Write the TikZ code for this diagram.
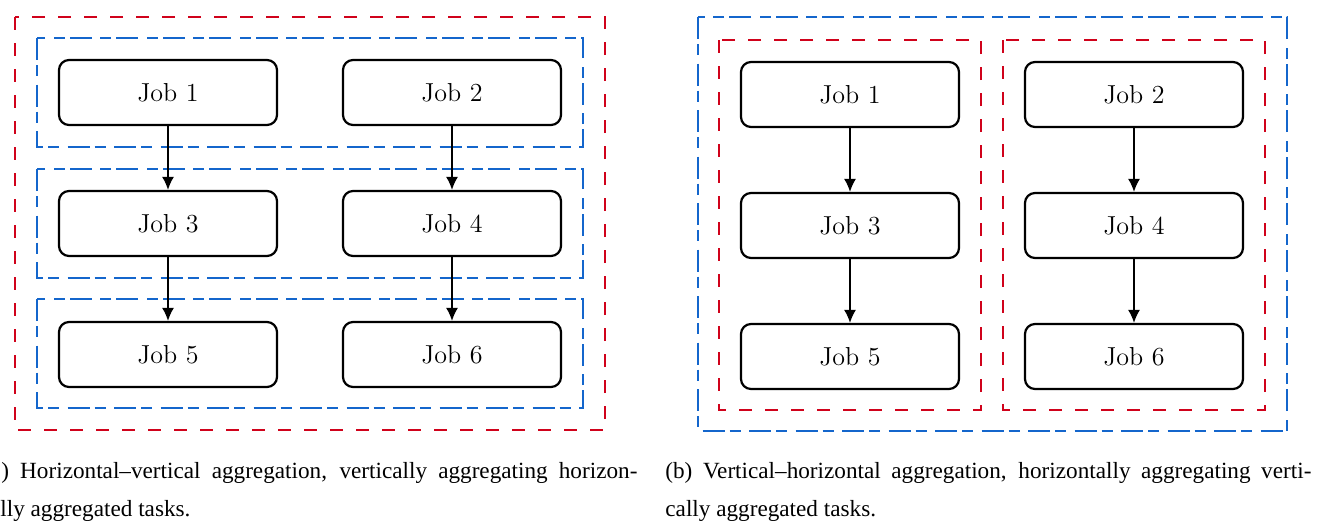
\documentclass[tikz,border=0pt]{standalone}
\usepackage{fontspec}
\usetikzlibrary{arrows.meta}
\newfontfamily\captionfont{Liberation Serif}
\definecolor{aggred}{RGB}{208,2,27}
\definecolor{aggblue}{RGB}{20,102,204}

\tikzset{
	job/.style={draw, line width=1.1pt, rounded corners=5pt, minimum width=109pt, minimum height=32.5pt, font=\fontsize{13}{15}\selectfont},
	vgroup/.style={aggred, line width=1pt, dash pattern=on 6.5pt off 6.5pt},
	hgroup/.style={aggblue, line width=1pt, dash pattern=on 11pt off 2.5pt on 5.5pt off 4.25pt},
	flow/.style={-{Latex[length=6.5pt,width=6pt]}, line width=0.8pt},
	captionline/.style={anchor=base west, inner sep=0pt, font=\captionfont\fontsize{11.6}{14}\selectfont}
}

\begin{document}
\begin{tikzpicture}[x=0.5pt,y=-0.5pt]
			\useasboundingbox (0,0) rectangle (1324,521);
			% (a) rows first, then one vertical group
			\draw [vgroup] (15,17) rectangle (605,430);
			\draw [hgroup] (37,38) rectangle (583,147);
			\draw [hgroup] (37,169) rectangle (583,278);
			\draw [hgroup] (37,299) rectangle (583,408);
			\node[job] (a1) at (168,92.5) {Job 1} ;
			\node[job] (a2) at (452,92.5) {Job 2} ;
			\node[job] (a3) at (168,223.5) {Job 3} ;
			\node[job] (a4) at (452,223.5) {Job 4} ;
			\node[job] (a5) at (168,354.5) {Job 5} ;
			\node[job] (a6) at (452,354.5) {Job 6} ;
			\draw [flow] (a1) -- (a3) ;
			\draw [flow] (a2) -- (a4) ;
			\draw [flow] (a3) -- (a5) ;
			\draw [flow] (a4) -- (a6) ;
			% (b) columns first, then one horizontal group
			\draw [hgroup] (698,17) rectangle (1287,431);
			\draw [vgroup] (719,40) rectangle (981,410);
			\draw [vgroup] (1003,40) rectangle (1265,410);
			\node[job] (b1) at (850,94.5) {Job 1} ;
			\node[job] (b2) at (1134,94.5) {Job 2} ;
			\node[job] (b3) at (850,225.5) {Job 3} ;
			\node[job] (b4) at (1134,225.5) {Job 4} ;
			\node[job] (b5) at (850,356.5) {Job 5} ;
			\node[job] (b6) at (1134,356.5) {Job 6} ;
			\draw [flow] (b1) -- (b3) ;
			\draw [flow] (b2) -- (b4) ;
			\draw [flow] (b3) -- (b5) ;
			\draw [flow] (b4) -- (b6) ;
			% captions
			\node[captionline] (capa1) at (1,478) {\makebox[318pt][s]{) Horizontal–vertical aggregation, vertically aggregating horizon-}} ;
			\node[captionline] (capa2) at (0,516) {lly aggregated tasks.} ;
			\node[captionline] (capb1) at (665,478) {\makebox[323pt][s]{(b) Vertical–horizontal aggregation, horizontally aggregating verti-}} ;
			\node[captionline] (capb2) at (665,516) {cally aggregated tasks.} ;
		\end{tikzpicture}
\end{document}
